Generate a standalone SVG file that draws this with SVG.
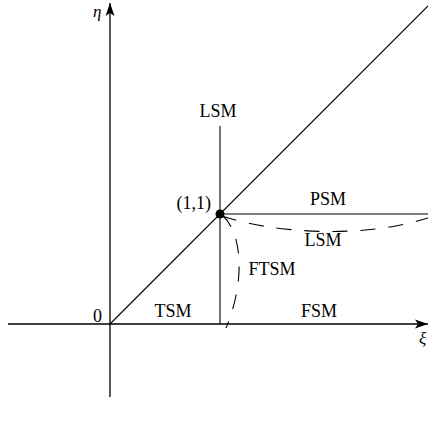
<svg xmlns="http://www.w3.org/2000/svg" width="428" height="429" viewBox="0 0 428 429">
<style>
.ax{stroke:#000;stroke-width:1.3;fill:none}
.ln{stroke:#000;stroke-width:1.1;fill:none}
.ds{stroke:#000;stroke-width:1.1;fill:none;stroke-dasharray:15,13}
.t{font-family:"Liberation Serif","Times New Roman",serif;font-size:18px;fill:#000}
.it{font-family:"Liberation Serif","Times New Roman",serif;font-size:17px;font-style:italic;fill:#000}
</style>
<defs>
<marker id="arr" markerWidth="14" markerHeight="10" refX="13" refY="5" orient="auto" markerUnits="userSpaceOnUse">
<path d="M0,0.5 L13,5 L0,9.5 L3,5 Z" fill="#000"/>
</marker>
</defs>
<rect width="428" height="429" fill="#fff"/>
<g id="connectors">
<line class="ax" x1="110" y1="397" x2="110" y2="3" marker-end="url(#arr)"/>
<line class="ax" x1="8" y1="324" x2="428" y2="324" marker-end="url(#arr)"/>
<line class="ln" x1="110" y1="324" x2="428" y2="6"/>
<line class="ln" x1="220" y1="126" x2="220" y2="324"/>
<line class="ln" x1="220" y1="214" x2="428" y2="214"/>
<path class="ds" d="M222,216 C268,232 360,240 428,218"/>
<path class="ds" d="M222,215 C242,232 246,280 226,328"/>
</g>
<g id="point"><circle cx="220" cy="214" r="4.5" fill="#000"/><text class="t" x="211" y="209" text-anchor="end">(1,1)</text></g>
<g id="eta"><text class="it" x="93" y="17">η</text></g>
<g id="xi"><text class="it" x="419" y="344">ξ</text></g>
<g id="origin"><text class="t" x="93" y="322">0</text></g>
<g id="LSM"><text class="t" x="218" y="117" text-anchor="middle">LSM</text></g>
<g id="PSM"><text class="t" x="328" y="205" text-anchor="middle">PSM</text></g>
<g id="LSMbar"><text class="t" x="323" y="246" text-anchor="middle">LSM</text></g>
<g id="FTSM"><text class="t" x="272" y="275" text-anchor="middle">FTSM</text></g>
<g id="TSM"><text class="t" x="173" y="317" text-anchor="middle">TSM</text></g>
<g id="FSM"><text class="t" x="319" y="317" text-anchor="middle">FSM</text></g>
</svg>
